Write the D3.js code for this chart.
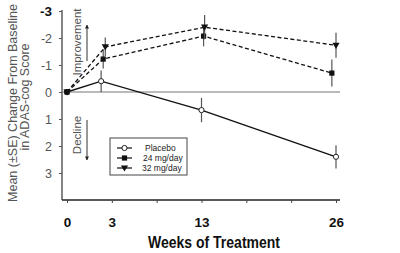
<!DOCTYPE html>
<html>
<head>
<meta charset="utf-8">
<script src="https://cdn.jsdelivr.net/npm/d3@7"></script>
<style>
  body { margin: 0; background: #fff; }
  svg { display: block; font-family: 'Liberation Sans', Arial, sans-serif; }
</style>
</head>
<body>
<div class="visHolder"></div>
<script>
var width = 400,
  height = 253;

// weeks (x) and mean change (y)
var placeboWeeks = [0, 3.3, 13, 26];
var placeboMean = [0, -0.4, 0.67, 2.4];
var placeboSE = [0, 0.4, 0.45, 0.43];

var mg24Weeks = [0, 3.5, 13.2, 25.6];
var mg24Mean = [0, -1.22, -2.07, -0.7];
var mg24SE = [0, 0.35, 0.38, 0.5];

var mg32Weeks = [0, 3.7, 13.3, 26];
var mg32Mean = [0, -1.67, -2.4, -1.73];
var mg32SE = [0, 0.35, 0.45, 0.46];

var xTickValues = [0, 26 / 6, 26 / 3, 13, 26 * 2 / 3, 26 * 5 / 6, 26];
var xTickLabels = ['0', '3', '', '13', '', '', '26'];
var yTickValues = [-3, -2, -1, 0, 1, 2, 3];
var yTickLabels = ['-3', '-2', '-1', '0', '1', '2', '3'];

var seriesNames = ['Placebo', '24 mg/day', '32 mg/day'];

var svg = d3
  .select('.visHolder')
  .append('svg')
  .attr('width', width)
  .attr('height', height);

var xScale = d3.scaleLinear().domain([0, 26]).range([67, 336]);
var yScale = d3.scaleLinear().domain([-3, 4]).range([11, 200]);

// x axis
var xAxis = d3
  .axisBottom(xScale)
  .tickValues(xTickValues)
  .tickSize(3)
  .tickSizeOuter(0)
  .tickFormat(function (d, i) {
    return xTickLabels[i];
  });

var gx = svg
  .append('g')
  .attr('transform', 'translate(0,' + yScale(4) + ')')
  .call(xAxis);
gx.select('.domain').attr('d', 'M62,0H340').attr('stroke', '#222').attr('stroke-width', 1.5);
gx.selectAll('.tick line').attr('stroke', '#444');
gx.selectAll('.tick text')
  .attr('dy', 0)
  .attr('y', 27)
  .style('font-size', '13.5px')
  .style('font-weight', 'bold')
  .attr('fill', '#111');

// y axis
var yAxis = d3
  .axisLeft(yScale)
  .tickValues(yTickValues)
  .tickSize(3)
  .tickSizeOuter(0)
  .tickFormat(function (d, i) {
    return yTickLabels[i];
  });

var gy = svg.append('g').attr('transform', 'translate(62,0)').call(yAxis);
gy.select('.domain').attr('d', 'M0,10V200').attr('stroke', '#333').attr('stroke-width', 1.2);
gy.selectAll('.tick line').attr('stroke', '#555');
gy.selectAll('.tick text')
  .attr('x', -10)
  .style('font-size', '12.5px')
  .attr('fill', '#555');
gy.selectAll('.tick text')
  .filter(function (d) {
    return d === -3;
  })
  .style('font-weight', 'bold')
  .style('font-size', '13.5px')
  .attr('fill', '#111');

// zero line
svg
  .append('line')
  .attr('x1', 62)
  .attr('x2', 340)
  .attr('y1', yScale(0))
  .attr('y2', yScale(0))
  .attr('stroke', '#777')
  .attr('stroke-width', 1.2);

// axis titles
svg
  .append('text')
  .attr('transform', 'translate(17,103) rotate(-90)')
  .attr('text-anchor', 'middle')
  .style('font-size', '12.5px')
  .attr('fill', '#555')
  .text('Mean (\u00b1SE) Change From Baseline');
svg
  .append('text')
  .attr('transform', 'translate(29,97) rotate(-90)')
  .attr('text-anchor', 'middle')
  .style('font-size', '12.5px')
  .attr('fill', '#555')
  .text('in ADAS-cog Score');

svg
  .append('text')
  .attr('x', 214)
  .attr('y', 248)
  .attr('text-anchor', 'middle')
  .attr('textLength', 132)
  .attr('lengthAdjust', 'spacingAndGlyphs')
  .style('font-size', '16.5px')
  .style('font-weight', 'bold')
  .attr('fill', '#111')
  .text('Weeks of Treatment');

// improvement / decline annotations
svg
  .append('text')
  .attr('transform', 'translate(81,42) rotate(-90)')
  .attr('text-anchor', 'middle')
  .style('font-size', '11.5px')
  .attr('fill', '#555')
  .text('Improvement');
svg
  .append('text')
  .attr('transform', 'translate(81,135) rotate(-90)')
  .attr('text-anchor', 'middle')
  .style('font-size', '11.5px')
  .attr('fill', '#555')
  .text('Decline');

svg
  .append('defs')
  .append('marker')
  .attr('id', 'arrow')
  .attr('viewBox', '0 0 10 10')
  .attr('refX', 9)
  .attr('refY', 5)
  .attr('markerWidth', 4)
  .attr('markerHeight', 6)
  .attr('orient', 'auto')
  .append('path')
  .attr('d', 'M0,0L10,5L0,10Z')
  .attr('fill', '#222');

svg
  .append('line')
  .attr('x1', 87)
  .attr('x2', 87)
  .attr('y1', 61)
  .attr('y2', 25)
  .attr('stroke', '#333')
  .attr('stroke-width', 1)
  .attr('marker-end', 'url(#arrow)');
svg
  .append('line')
  .attr('x1', 87)
  .attr('x2', 87)
  .attr('y1', 120)
  .attr('y2', 160)
  .attr('stroke', '#333')
  .attr('stroke-width', 1)
  .attr('marker-end', 'url(#arrow)');

// series
var series = [
  { name: seriesNames[0], weeks: placeboWeeks, mean: placeboMean, se: placeboSE, dash: null, symbol: 'circle' },
  { name: seriesNames[1], weeks: mg24Weeks, mean: mg24Mean, se: mg24SE, dash: '4,2.5', symbol: 'square' },
  { name: seriesNames[2], weeks: mg32Weeks, mean: mg32Mean, se: mg32SE, dash: '4,2.5', symbol: 'triangle' }
];

var line = d3
  .line()
  .x(function (d) {
    return xScale(d[0]);
  })
  .y(function (d) {
    return yScale(d[1]);
  });

function drawSymbol(g, type, x, y) {
  if (type === 'circle') {
    g.append('circle')
      .attr('cx', x)
      .attr('cy', y)
      .attr('r', 2.6)
      .attr('fill', '#fff')
      .attr('stroke', '#222')
      .attr('stroke-width', 1);
  } else if (type === 'square') {
    g.append('rect')
      .attr('x', x - 2.6)
      .attr('y', y - 2.6)
      .attr('width', 5.2)
      .attr('height', 5.2)
      .attr('fill', '#111');
  } else {
    g.append('path')
      .attr('d', 'M' + (x - 3.6) + ',' + (y - 2.6) + 'h7.2L' + x + ',' + (y + 3.6) + 'Z')
      .attr('fill', '#111');
  }
}

series.forEach(function (s) {
  var pts = s.weeks.map(function (w, i) {
    return [w, s.mean[i]];
  });
  var g = svg.append('g');

  g.append('path')
    .datum(pts)
    .attr('d', line)
    .attr('fill', 'none')
    .attr('stroke', '#111')
    .attr('stroke-width', s.dash ? 1.3 : 1.4)
    .attr('stroke-dasharray', s.dash);

  s.weeks.forEach(function (w, i) {
    if (s.se[i] > 0) {
      g.append('line')
        .attr('x1', xScale(w))
        .attr('x2', xScale(w))
        .attr('y1', yScale(s.mean[i] - s.se[i]))
        .attr('y2', yScale(s.mean[i] + s.se[i]))
        .attr('stroke', '#555')
        .attr('stroke-width', 1.2);
    }
  });

  s.weeks.forEach(function (w, i) {
    drawSymbol(g, s.symbol, xScale(w), yScale(s.mean[i]));
  });
});

// legend
var legend = svg.append('g');
legend
  .append('rect')
  .attr('x', 110)
  .attr('y', 138)
  .attr('width', 77)
  .attr('height', 37)
  .attr('fill', '#fff')
  .attr('stroke', '#444')
  .attr('stroke-width', 1);

series.forEach(function (s, i) {
  var y = 148 + i * 10;
  legend
    .append('line')
    .attr('x1', 117)
    .attr('x2', 132)
    .attr('y1', y)
    .attr('y2', y)
    .attr('stroke', '#111')
    .attr('stroke-width', 1.2);
  drawSymbol(legend, s.symbol, 124.5, y);
  legend
    .append('text')
    .attr('x', [145, 143, 142][i])
    .attr('y', y + 3)
    .style('font-size', '8.5px')
    .attr('fill', '#222')
    .text(s.name);
});
</script>
</body>
</html>
